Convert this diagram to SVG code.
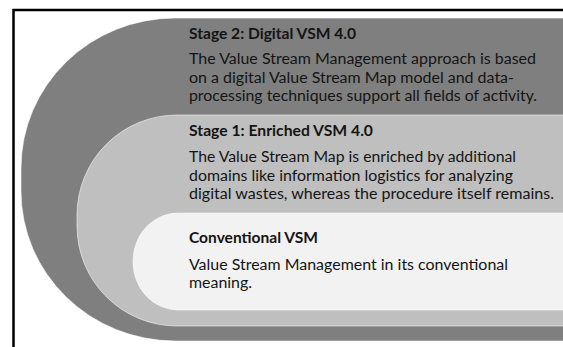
<svg xmlns="http://www.w3.org/2000/svg" width="563" height="347" viewBox="0 0 563 347">
<style>
.t{font-family:Lato,"Liberation Sans",sans-serif;font-size:14.5px;font-weight:700;fill:#141414}
.b{font-family:Lato,"Liberation Sans",sans-serif;font-size:15.5px;fill:#141414}
.shape{stroke:#ffffff;stroke-opacity:0.55;stroke-width:1}
</style>
<rect x="0" y="0" width="563" height="347" fill="#ffffff"/>
<rect x="13.5" y="10" width="600" height="400" fill="#ffffff" stroke="#000000" stroke-width="2.5"/>
<g id="stage2">
<path class="shape" fill="#7f7f7f" d="M570 18 H175 A154 150 0 0 0 21 168 V191 A154 150 0 0 0 175 341 H570 Z"/>
<text class="t" x="189" y="39" textLength="167" lengthAdjust="spacingAndGlyphs">Stage 2: Digital VSM 4.0</text>
<text class="b" x="189" y="64.3" textLength="347" lengthAdjust="spacingAndGlyphs">The Value Stream Management approach is based</text>
<text class="b" x="189" y="82.8" textLength="325" lengthAdjust="spacingAndGlyphs">on a digital Value Stream Map model and data-</text>
<text class="b" x="189" y="101.3" textLength="348" lengthAdjust="spacingAndGlyphs">processing techniques support all fields of activity.</text>
</g>
<g id="stage1">
<path class="shape" fill="#bfbfbf" d="M570 115 H177 A100 100 0 0 0 77 215 V226 A100 100 0 0 0 177 326 H570 Z"/>
<text class="t" x="189" y="135.5" textLength="184" lengthAdjust="spacingAndGlyphs">Stage 1: Enriched VSM 4.0</text>
<text class="b" x="189" y="162.3" textLength="327" lengthAdjust="spacingAndGlyphs">The Value Stream Map is enriched by additional</text>
<text class="b" x="189" y="180.8" textLength="324" lengthAdjust="spacingAndGlyphs">domains like information logistics for analyzing</text>
<text class="b" x="189" y="199.3" textLength="365" lengthAdjust="spacingAndGlyphs">digital wastes, whereas the procedure itself remains.</text>
</g>
<g id="conventional">
<path class="shape" fill="#f2f2f2" d="M570 213 H178 A45 48 0 0 0 133 261 V262 A45 48 0 0 0 178 310 H570 Z"/>
<text class="t" x="189" y="243.3" textLength="129" lengthAdjust="spacingAndGlyphs">Conventional VSM</text>
<text class="b" x="189" y="270" textLength="319" lengthAdjust="spacingAndGlyphs">Value Stream Management in its conventional</text>
<text class="b" x="189" y="288" textLength="63" lengthAdjust="spacingAndGlyphs">meaning.</text>
</g>
<g id="connectors"/>
</svg>
